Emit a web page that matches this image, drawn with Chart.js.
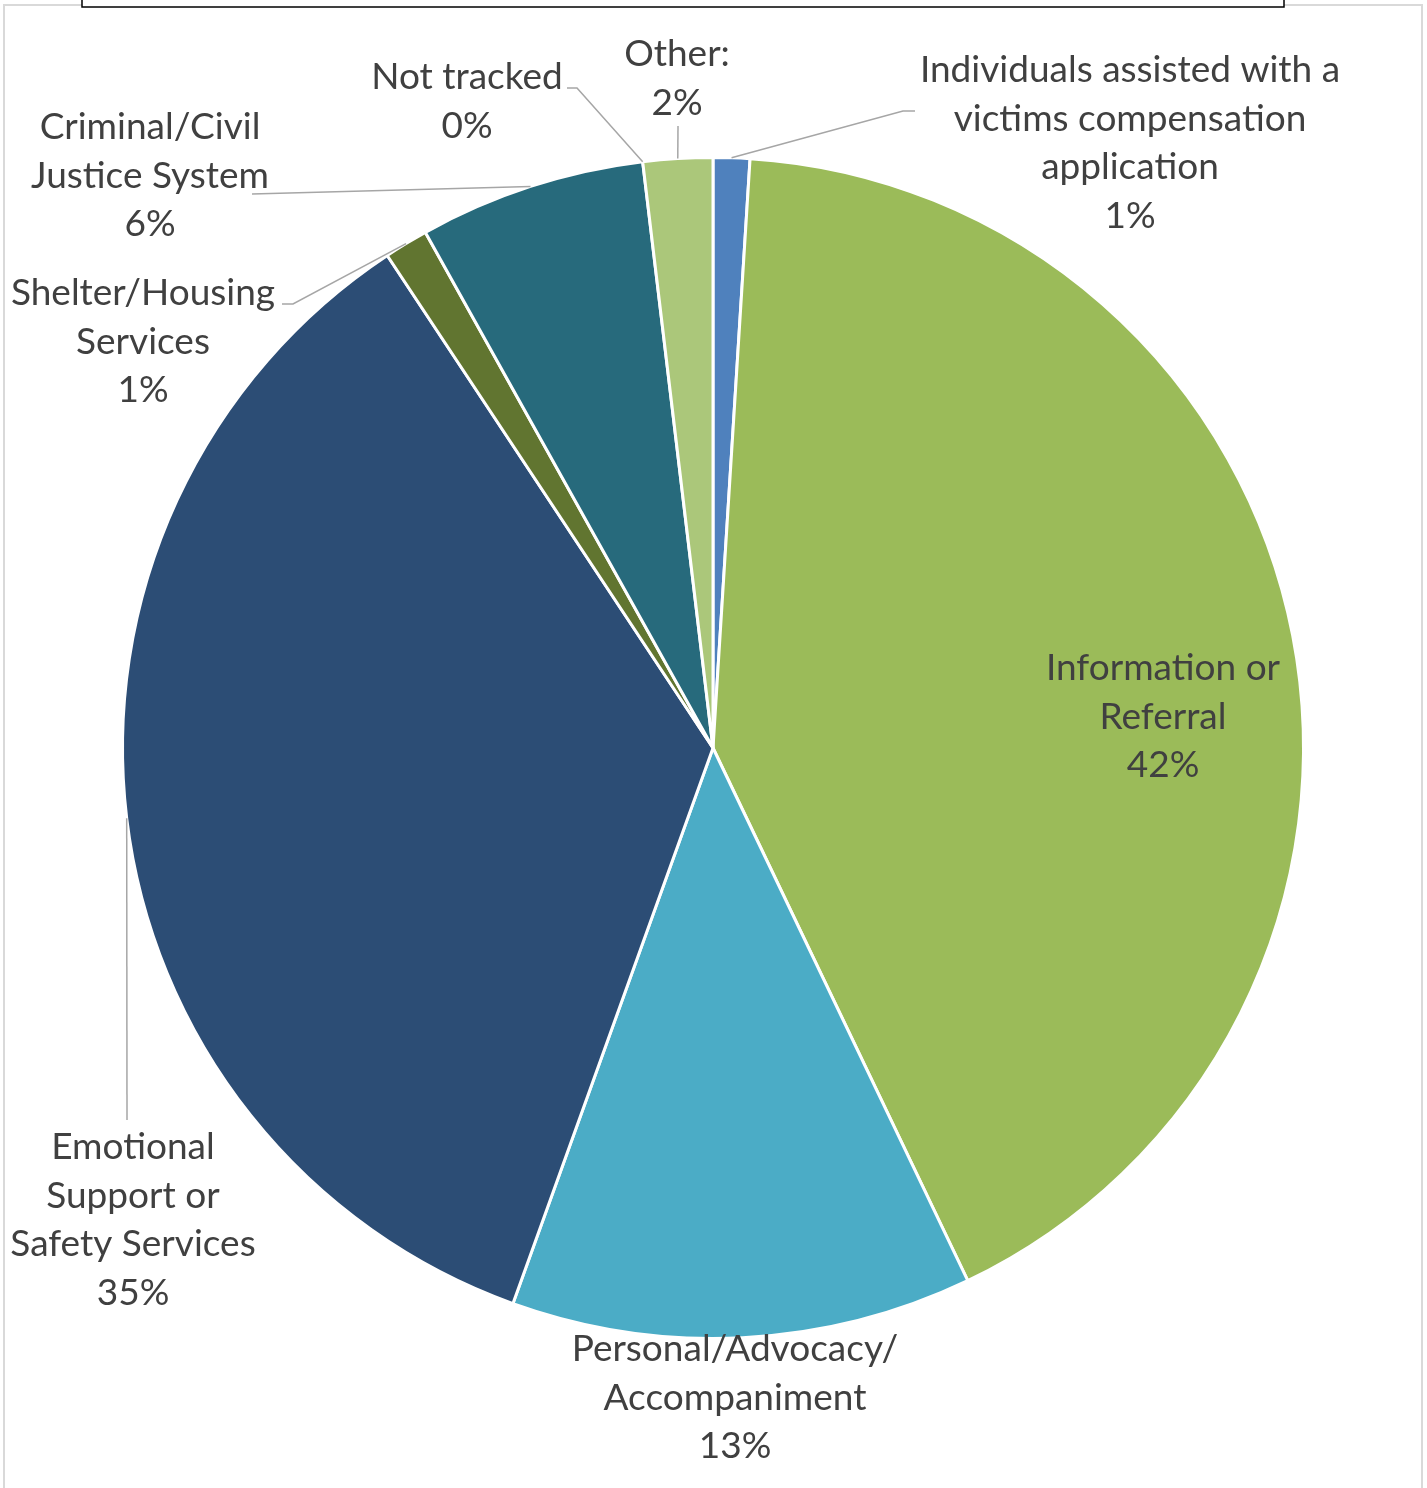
<!DOCTYPE html>
<html>
<head>
<meta charset="utf-8">
<script src="https://cdn.jsdelivr.net/npm/chart.js@4"></script>
<style>
  html, body { margin: 0; padding: 0; background: #ffffff; }
  #wrap { width: 1427px; height: 1488px; position: relative; }
</style>
</head>
<body>
<div id="wrap"><canvas id="services" width="1427" height="1488"></canvas></div>
<script>
// Service categories, clockwise from 12 o'clock
const categories = [
  'Individuals assisted with a victims compensation application',
  'Information or Referral',
  'Personal/Advocacy/Accompaniment',
  'Emotional Support or Safety Services',
  'Shelter/Housing Services',
  'Criminal/Civil Justice System',
  'Not tracked',
  'Other:'
];

// Share of services delivered (percent)
const shareValues = [1.0, 41.9, 12.6, 35.2, 1.2, 6.2, 0, 1.9];

// Wrapped category text as shown on the chart
const labelLines = [
  ['Individuals assisted with a', 'victims compensation', 'application'],
  ['Information or', 'Referral'],
  ['Personal/Advocacy/', 'Accompaniment'],
  ['Emotional', 'Support or', 'Safety Services'],
  ['Shelter/Housing', 'Services'],
  ['Criminal/Civil', 'Justice System'],
  ['Not tracked'],
  ['Other:']
];

const sliceColors = ['#4F81BD', '#9BBB59', '#4BACC6', '#2C4D75', '#617530', '#276A7C', '#8064A2', '#ABC77A'];

// Label placement: centre x, first line centre y, leader path (from slice rim)
const labelLayout = [
  { cx: 1130, top: 70,   leader: [[903, 111], [915, 111]] },
  { cx: 1163, top: 668,  leader: null },
  { cx: 735,  top: 1349, leader: null },
  { cx: 133,  top: 1147, leader: [[127, 1120]] },
  { cx: 143,  top: 293,  leader: [[293, 304], [282, 304]] },
  { cx: 150,  top: 127,  leader: [[252, 194]] },
  { cx: 467,  top: 77,   leader: [[577, 88], [567, 88]] },
  { cx: 677,  top: 54,   leader: [[678, 126]] }
];

const LINE_H = 48.7;
const FONT_PX = 37;
const TEXT_COLOR = '#404040';

const frame = {
  id: 'frame',
  beforeDraw(chart) {
    const ctx = chart.ctx;
    ctx.save();
    ctx.fillStyle = '#ffffff';
    ctx.fillRect(0, 0, chart.width, chart.height);
    ctx.strokeStyle = '#d9d9d9';
    ctx.lineWidth = 2;
    ctx.strokeRect(4, 5, 1418, 1500);
    // title box
    ctx.fillStyle = '#ffffff';
    ctx.fillRect(82, -10, 1202, 17);
    ctx.strokeStyle = '#000000';
    ctx.lineWidth = 1.5;
    ctx.strokeRect(82, -10, 1202, 17);
    ctx.restore();
  }
};

const sliceLabels = {
  id: 'sliceLabels',
  afterDatasetsDraw(chart) {
    const ctx = chart.ctx;
    const meta = chart.getDatasetMeta(0);
    const data = chart.data.datasets[0].data;
    const total = data.reduce((a, b) => a + b, 0);
    ctx.save();
    // leader lines
    ctx.strokeStyle = '#a6a6a6';
    ctx.lineWidth = 1.5;
    meta.data.forEach((arc, i) => {
      const lay = labelLayout[i];
      if (!lay.leader) return;
      const mid = (arc.startAngle + arc.endAngle) / 2;
      const sx = arc.x + Math.cos(mid) * arc.outerRadius;
      const sy = arc.y + Math.sin(mid) * arc.outerRadius;
      ctx.beginPath();
      ctx.moveTo(sx, sy);
      lay.leader.forEach(p => ctx.lineTo(p[0], p[1]));
      ctx.stroke();
    });
    // texts
    ctx.fillStyle = TEXT_COLOR;
    ctx.textAlign = 'center';
    ctx.textBaseline = 'middle';
    ctx.font = FONT_PX + 'px Lato, "Open Sans", sans-serif';
    data.forEach((v, i) => {
      const lay = labelLayout[i];
      const lines = labelLines[i].concat([Math.round(v / total * 100) + '%']);
      lines.forEach((t, k) => {
        ctx.fillText(t, lay.cx, lay.top + k * LINE_H);
      });
    });
    ctx.restore();
  }
};

new Chart(document.getElementById('services'), {
  type: 'pie',
  data: {
    labels: categories,
    datasets: [{
      data: shareValues,
      backgroundColor: sliceColors,
      borderColor: '#ffffff',
      borderWidth: 3
    }]
  },
  options: {
    responsive: false,
    animation: false,
    devicePixelRatio: 1,
    layout: { padding: { left: 121, right: 122, top: 156, bottom: 148 } },
    plugins: {
      legend: { display: false },
      tooltip: { enabled: false }
    }
  },
  plugins: [frame, sliceLabels]
});
</script>
</body>
</html>
